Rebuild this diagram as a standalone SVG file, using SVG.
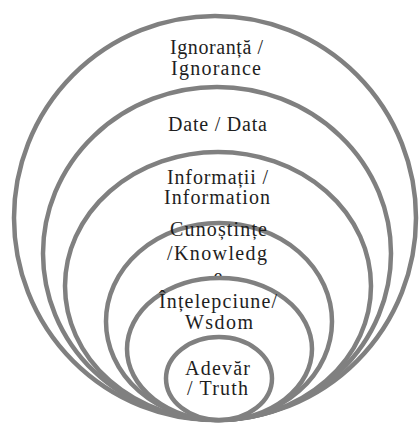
<svg xmlns="http://www.w3.org/2000/svg" width="419" height="427" viewBox="0 0 419 427">
<style>
.ring{fill:#fff;stroke:#808080;stroke-width:4.5}
.t{font-family:"Liberation Serif","Times New Roman",serif;font-size:20px;fill:#1e1e1e;text-anchor:middle}
</style>
<rect width="419" height="427" fill="#fff"/>
<g id="connectors"/>
<g id="ignorance">
<ellipse class="ring" cx="215" cy="218" rx="201" ry="202"/>
<text class="t" x="216.5" y="54" textLength="93" lengthAdjust="spacing">Ignoranță /</text>
<text class="t" x="216" y="75" textLength="90" lengthAdjust="spacing">Ignorance</text>
</g>
<g id="data">
<ellipse class="ring" cx="217" cy="253.5" rx="174" ry="166.5"/>
<text class="t" x="217.5" y="131" textLength="99" lengthAdjust="spacing">Date / Data</text>
</g>
<g id="information">
<ellipse class="ring" cx="218" cy="286" rx="153" ry="134"/>
<text class="t" x="217.5" y="184" textLength="101" lengthAdjust="spacing">Informații /</text>
<text class="t" x="217" y="204" textLength="106" lengthAdjust="spacing">Information</text>
</g>
<g id="knowledge">
<ellipse class="ring" cx="219" cy="321.5" rx="113" ry="98.5"/>
<text class="t" x="218.5" y="236" textLength="97" lengthAdjust="spacing">Cunoștințe</text>
<text class="t" x="217" y="260" textLength="100" lengthAdjust="spacing">/Knowledg</text>
<text class="t" x="218" y="282.5">e</text>
</g>
<g id="wisdom">
<ellipse class="ring" cx="219.5" cy="349" rx="92.5" ry="71"/>
<text class="t" x="218" y="308" textLength="118" lengthAdjust="spacing">Înțelepciune/</text>
<text class="t" x="219" y="329" textLength="68" lengthAdjust="spacing">Wsdom</text>
</g>
<g id="truth">
<ellipse class="ring" cx="219" cy="378.5" rx="53" ry="41.5"/>
<text class="t" x="217.5" y="375" textLength="65" lengthAdjust="spacing">Adevăr</text>
<text class="t" x="217.5" y="395" textLength="61" lengthAdjust="spacing">/ Truth</text>
</g>
</svg>
